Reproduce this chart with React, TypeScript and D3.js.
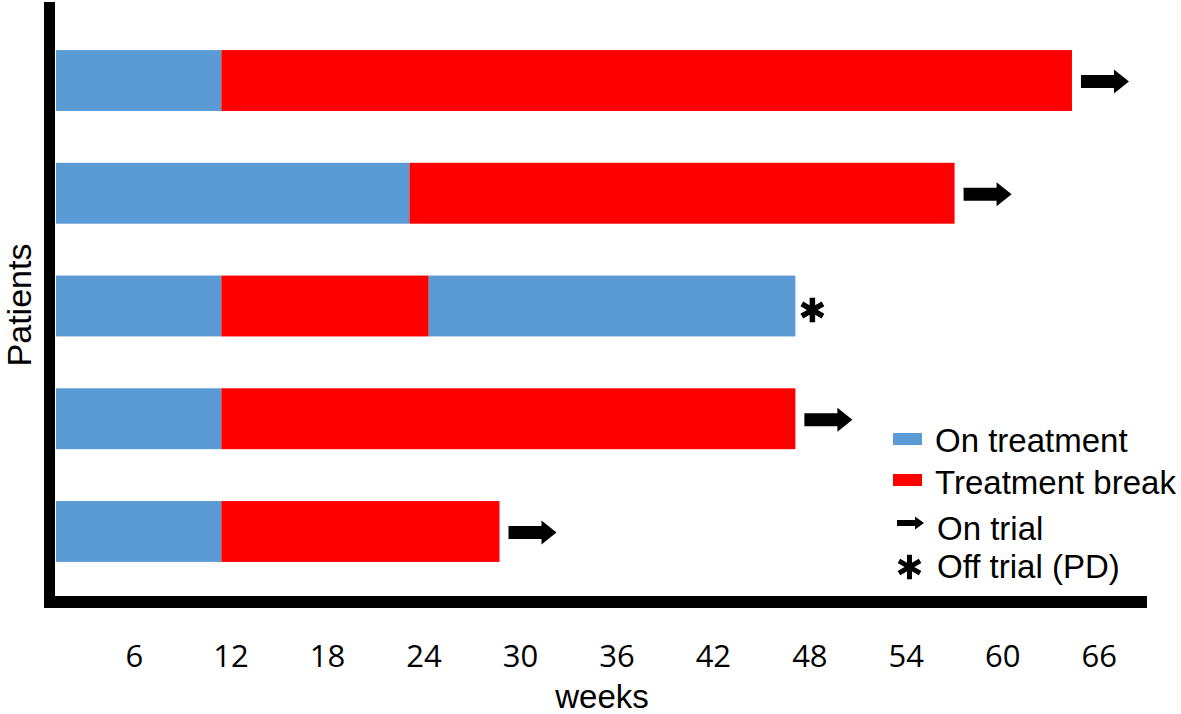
import React from 'react';
import * as d3 from 'd3';

// data (weeks)
const patients = ['P1', 'P2', 'P3', 'P4', 'P5'];
const firstTreatmentEnd = [11.4, 23.1, 11.4, 11.4, 11.4];
const breakEnd = [64.3, 57.0, 24.3, 47.1, 28.7];
const secondTreatmentEnd = [0, 0, 47.1, 0, 0]; // 0 = no second treatment phase
const trialStatus = ['on', 'on', 'off', 'on', 'on'];
const weekTicks = [6, 12, 18, 24, 30, 36, 42, 48, 54, 60, 66];
const legendLabels = ['On treatment', 'Treatment break', 'On trial', 'Off trial (PD)'];

const BLUE = '#5B9BD5';
const RED = '#FF0000';

// arrow polygon pointing right, starting at x0, centred on cy
const arrowPath = (x0, cy, len, shaft, headLen, headH) => {
  const p = d3.path();
  const xh = x0 + len - headLen;
  p.moveTo(x0, cy - shaft / 2);
  p.lineTo(xh, cy - shaft / 2);
  p.lineTo(xh, cy - headH / 2);
  p.lineTo(x0 + len, cy);
  p.lineTo(xh, cy + headH / 2);
  p.lineTo(xh, cy + shaft / 2);
  p.lineTo(x0, cy + shaft / 2);
  p.closePath();
  return p.toString();
};

const asterisk = d3.symbol(d3.symbolAsterisk, 420)();

export default function App() {
  const width = 1181;
  const height = 714;

  const x = d3.scaleLinear().domain([0, 66]).range([38, 1099.3]);
  const y = d3
    .scaleBand()
    .domain(patients)
    .range([5, 607])
    .paddingInner(0.46)
    .paddingOuter(0.4);
  const bw = y.bandwidth();

  const rows = patients.map((p, i) => {
    const segs = [
      { from: 0, to: firstTreatmentEnd[i], color: BLUE },
      { from: firstTreatmentEnd[i], to: breakEnd[i], color: RED },
    ];
    if (secondTreatmentEnd[i] > 0) {
      segs.push({ from: breakEnd[i], to: secondTreatmentEnd[i], color: BLUE });
    }
    const end = Math.max(breakEnd[i], secondTreatmentEnd[i]);
    return { p, segs, end, status: trialStatus[i] };
  });

  const textFont = '"Liberation Sans", Arial, sans-serif';

  return (
    <svg
      width={width}
      height={height}
      style={{ position: 'absolute', left: 0, top: 0, background: '#fff' }}
    >
      <defs>
        <clipPath id="plot">
          <rect x={56} y={0} width={width - 56} height={height} />
        </clipPath>
      </defs>

      {/* bars */}
      {rows.map((r) => (
        <g key={r.p}>
          <g clipPath="url(#plot)">
            {r.segs.map((s, j) => (
              <rect
                key={j}
                x={x(s.from)}
                y={y(r.p)}
                width={x(s.to) - x(s.from)}
                height={bw}
                fill={s.color}
              />
            ))}
          </g>
          {r.status === 'on' ? (
            <path
              d={arrowPath(x(r.end) + 9, y(r.p) + bw / 2 + 1, 48, 13, 15, 24)}
              fill="#000"
            />
          ) : (
            <path
              d={asterisk}
              transform={`translate(${x(r.end) + 17},${y(r.p) + bw / 2 + 4})`}
              fill="none"
              stroke="#000"
              strokeWidth={5.5}
            />
          )}
        </g>
      ))}

      {/* axes */}
      <line x1={49.5} x2={49.5} y1={2} y2={608} stroke="#000" strokeWidth={11} />
      <line x1={44} x2={1147} y1={602} y2={602} stroke="#000" strokeWidth={12} />

      {weekTicks.map((t) => (
        <text
          key={t}
          x={x(t)}
          y={667}
          textAnchor="middle"
          fontFamily='"Open Sans", sans-serif'
          fontSize={31}
          fill="#000"
        >
          {t}
        </text>
      ))}

      <text x={602} y={708} textAnchor="middle" fontFamily={textFont} fontSize={33}>
        weeks
      </text>
      <text
        transform="translate(31,305) rotate(-90)"
        textAnchor="middle"
        fontFamily={textFont}
        fontSize={34}
      >
        Patients
      </text>

      {/* legend */}
      <rect x={893} y={433} width={29} height={12} fill={BLUE} />
      <rect x={893} y={474} width={29} height={12} fill={RED} />
      <path d={arrowPath(897, 523, 27, 6, 9, 13)} fill="#000" />
      <path
        d={asterisk}
        transform="translate(909.5,567)"
        fill="none"
        stroke="#000"
        strokeWidth={5}
      />
      {legendLabels.map((l, i) => (
        <text
          key={l}
          x={935 + (i > 1 ? 2 : 0)}
          y={[452, 494, 540, 578][i]}
          fontFamily={textFont}
          fontSize={33}
          fill="#000"
        >
          {l}
        </text>
      ))}
    </svg>
  );
}
